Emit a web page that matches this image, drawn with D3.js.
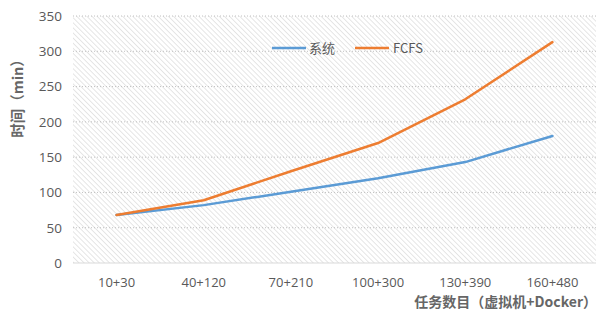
<!DOCTYPE html>
<html><head><meta charset="utf-8">
<script src="https://cdn.jsdelivr.net/npm/d3@7"></script>
<style>body{margin:0;background:#fff;}svg{display:block;font-family:"Noto Sans CJK SC","Open Sans",sans-serif;}</style>
</head><body>
<svg id="c" width="611" height="313"></svg>
<script>
const categories = ["10+30","40+120","70+210","100+300","130+390","160+480"];
const seriesNames = ["系统","FCFS"];
const systemValues = [68, 82, 101, 120, 143, 180];
const fcfsValues = [68, 89, 130, 170, 232, 313];
const yTicks = [0,50,100,150,200,250,300,350];
const colors = ["#5B9BD5","#ED7D31"];

const svg = d3.select("#c");
const m = {l:73, r:15, t:16, b:50};
const W = 611, H = 313;
const x = d3.scaleBand().domain(categories).range([m.l, W-m.r]);
const y = d3.scaleLinear().domain([0,350]).range([H-m.b, m.t]);

const defs = svg.append("defs");
const pat = defs.append("pattern").attr("id","hatch").attr("patternUnits","userSpaceOnUse")
  .attr("width",3.6).attr("height",3.6).attr("patternTransform","rotate(45)");
pat.append("rect").attr("width",3.6).attr("height",3.6).attr("fill","#fff");
pat.append("line").attr("x1",0).attr("y1",0).attr("x2",3.6).attr("y2",0).attr("stroke","#dcdcdc").attr("stroke-width",1.4);

svg.append("rect").attr("x",m.l).attr("y",m.t).attr("width",W-m.r-m.l).attr("height",H-m.b-m.t).attr("fill","url(#hatch)");

// gridlines
svg.append("g").selectAll("line").data(yTicks.filter(d=>d>0)).join("line")
  .attr("x1",m.l).attr("x2",W-m.r).attr("y1",d=>y(d)).attr("y2",d=>y(d))
  .attr("stroke","#c0c0c0").attr("stroke-width",1).attr("stroke-dasharray","1,2");
svg.append("line").attr("x1",m.l).attr("x2",W-m.r).attr("y1",y(0)).attr("y2",y(0)).attr("stroke","#d9d9d9").attr("stroke-width",1);

// y axis
const ya = svg.append("g").attr("transform",`translate(${m.l},0)`).call(d3.axisLeft(y).tickValues(yTicks).tickSize(0).tickPadding(11));
ya.select(".domain").remove();
ya.selectAll("text").attr("font-size",13.5).attr("fill","#595959").attr("font-family","Open Sans, sans-serif");

// x axis
const xa = svg.append("g").attr("transform",`translate(0,${y(0)})`).call(d3.axisBottom(x).tickSize(0).tickPadding(15));
xa.select(".domain").remove();
xa.selectAll("text").attr("font-size",13).attr("fill","#595959").attr("font-family","Open Sans, sans-serif");

// lines
const line = d3.line().x((d,i)=>x(categories[i])+x.bandwidth()/2).y(d=>y(d));
[systemValues, fcfsValues].forEach((vals,i)=>{
  svg.append("path").datum(vals).attr("d",line).attr("fill","none").attr("stroke",colors[i]).attr("stroke-width",2.5).attr("stroke-linejoin","round").attr("stroke-linecap","round");
});

// legend
const leg = [{x:272, tx:309},{x:355, tx:393}];
seriesNames.forEach((n,i)=>{
  svg.append("line").attr("x1",leg[i].x).attr("x2",leg[i].x+34).attr("y1",48).attr("y2",48).attr("stroke",colors[i]).attr("stroke-width",2.5);
  svg.append("text").attr("x",leg[i].tx).attr("y",53).attr("font-size",13).attr("fill","#595959").text(n);
});

// axis titles
svg.append("text").attr("transform",`translate(23,95) rotate(-90)`).attr("text-anchor","middle")
  .attr("font-size",14.5).attr("font-weight","bold").attr("fill","#666").text("时间（min）");
svg.append("text").attr("x",597).attr("y",307).attr("text-anchor","end")
  .attr("font-size",14).attr("font-weight","bold").attr("fill","#666").text("任务数目（虚拟机+Docker）");
</script>
</body></html>
